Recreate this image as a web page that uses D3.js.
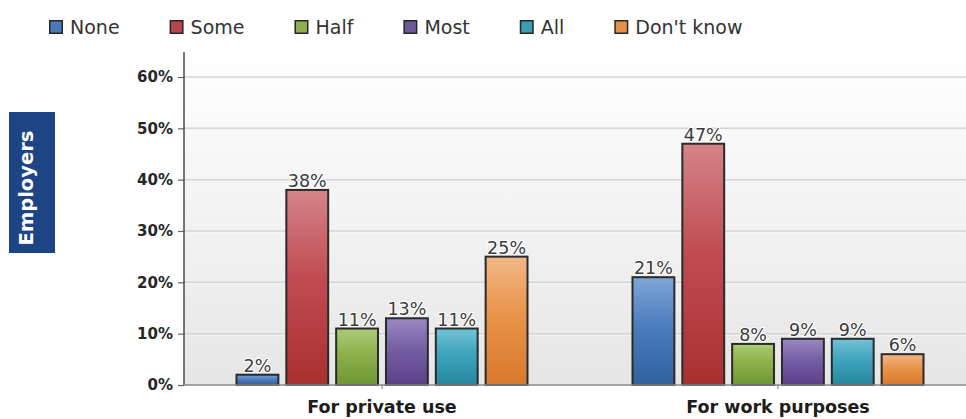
<!DOCTYPE html>
<html>
<head>
<meta charset="utf-8">
<script src="https://cdn.jsdelivr.net/npm/d3@7"></script>
<style>
  html, body { margin: 0; padding: 0; background: #ffffff; }
  svg { display: block; }
  text { font-family: "DejaVu Sans", sans-serif; }
</style>
</head>
<body>
<svg id="chart" width="966" height="419"></svg>
<script>
// Share of staff allowed Internet access, as reported by employers
const categories = ["For private use", "For work purposes"];
const seriesNames = ["None", "Some", "Half", "Most", "All", "Don't know"];
const privateUse = [2, 38, 11, 13, 11, 25];
const workPurposes = [21, 47, 8, 9, 9, 6];
const yTicks = [0, 10, 20, 30, 40, 50, 60];
const sideLabel = "Employers";

// Flat legend colours and the light/mid/dark stops of each bar gradient
const swatch = ["#4a78b8", "#b8444a", "#8fae4e", "#6e589a", "#3a9fb4", "#e6914a"];
const gradTop = ["#7ea6d8", "#d48489", "#accb78", "#9a88c2", "#74c2d4", "#f2b888"];
const gradMid = ["#4d7dbc", "#c04c52", "#8db04a", "#7660a4", "#3ea4bc", "#e8944a"];
const gradBottom = ["#30609e", "#a8302f", "#6d9734", "#5a3f88", "#26879e", "#d8792c"];

const values = [privateUse, workPurposes];

const svg = d3.select("#chart");
const plot = { left: 184, right: 976, top: 52, bottom: 385 };

const x0 = d3.scaleBand().domain(categories).range([plot.left, plot.right]).padding(0);
const y = d3.scaleLinear().domain([0, 60]).range([385, 77]);

const defs = svg.append("defs");
const bg = defs.append("linearGradient").attr("id", "plotBg")
  .attr("x1", 0).attr("y1", 0).attr("x2", 0).attr("y2", 1);
bg.append("stop").attr("offset", "0%").attr("stop-color", "#ffffff");
bg.append("stop").attr("offset", "100%").attr("stop-color", "#e6e6e6");

seriesNames.forEach((s, i) => {
  const g = defs.append("linearGradient").attr("id", "bar" + i)
    .attr("x1", 0).attr("y1", 0).attr("x2", 0).attr("y2", 1);
  g.append("stop").attr("offset", "0%").attr("stop-color", gradTop[i]);
  g.append("stop").attr("offset", "45%").attr("stop-color", gradMid[i]);
  g.append("stop").attr("offset", "100%").attr("stop-color", gradBottom[i]);
});

// Plot background
svg.append("rect")
  .attr("x", plot.left).attr("y", plot.top)
  .attr("width", plot.right - plot.left).attr("height", plot.bottom - plot.top)
  .attr("fill", "url(#plotBg)");

// Gridlines with a soft highlight underneath
const grid = svg.append("g");
grid.selectAll("line.hl").data(yTicks.filter(t => t > 0)).join("line")
  .attr("class", "hl")
  .attr("x1", plot.left).attr("x2", plot.right)
  .attr("y1", d => y(d) + 1.5).attr("y2", d => y(d) + 1.5)
  .attr("stroke", "#f6f6f6").attr("stroke-width", 1);
grid.selectAll("line.gl").data(yTicks.filter(t => t > 0)).join("line")
  .attr("class", "gl")
  .attr("x1", plot.left).attr("x2", plot.right)
  .attr("y1", d => y(d)).attr("y2", d => y(d))
  .attr("stroke", "#d4d4d4").attr("stroke-width", 1.5);

// Y axis
const yAxis = svg.append("g")
  .attr("transform", `translate(${plot.left},0)`)
  .call(d3.axisLeft(y).tickValues(yTicks).tickFormat(d => d + "%").tickSize(6).tickPadding(5));
yAxis.select(".domain").remove();
yAxis.selectAll(".tick line").attr("stroke", "#666").attr("stroke-width", 1.2);
yAxis.selectAll(".tick text")
  .attr("fill", "#262626").attr("font-size", 15).attr("font-weight", "bold")
  .attr("font-family", "DejaVu Sans, sans-serif");
svg.append("line")
  .attr("x1", plot.left).attr("x2", plot.left)
  .attr("y1", plot.top).attr("y2", plot.bottom)
  .attr("stroke", "#4a4a4a").attr("stroke-width", 1.5);

// Bars
const x1 = d3.scaleBand().domain(seriesNames).paddingInner(0.16).paddingOuter(0);
const groupSpan = 291;
x1.range([0, groupSpan]);

const groups = svg.append("g").selectAll("g").data(categories).join("g")
  .attr("transform", c => `translate(${x0(c) + x0.bandwidth() / 2 - groupSpan / 2},0)`);

groups.each(function (c, ci) {
  const g = d3.select(this);
  const rows = seriesNames.map((s, i) => ({ s, i, v: values[ci][i] }));
  g.selectAll("rect").data(rows).join("rect")
    .attr("x", d => x1(d.s))
    .attr("y", d => y(d.v))
    .attr("width", x1.bandwidth())
    .attr("height", d => y(0) - y(d.v))
    .attr("fill", d => `url(#bar${d.i})`)
    .attr("stroke", "#2a2a2a").attr("stroke-width", 2);
  g.selectAll("text").data(rows).join("text")
    .attr("x", d => x1(d.s) + x1.bandwidth() / 2)
    .attr("y", d => y(d.v) - 3)
    .attr("text-anchor", "middle")
    .attr("font-size", 17.5)
    .attr("fill", "#3a3a3a")
    .attr("stroke", "#ffffff").attr("stroke-width", 2).attr("paint-order", "stroke")
    .text(d => d.v + "%");
});

// X axis baseline, category ticks and labels
svg.append("line")
  .attr("x1", plot.left).attr("x2", plot.right)
  .attr("y1", plot.bottom).attr("y2", plot.bottom)
  .attr("stroke", "#8a8a8a").attr("stroke-width", 1.5);
const xAxis = svg.append("g")
  .attr("transform", `translate(0,${plot.bottom})`)
  .call(d3.axisBottom(x0).tickSize(4).tickPadding(12));
xAxis.select(".domain").remove();
xAxis.selectAll(".tick line").attr("stroke", "#777");
xAxis.selectAll(".tick text")
  .attr("fill", "#1c1c1c").attr("font-size", 17.5).attr("font-weight", "bold")
  .attr("font-family", "DejaVu Sans, sans-serif");

// Side label
svg.append("rect")
  .attr("x", 9).attr("y", 112).attr("width", 46).attr("height", 141)
  .attr("fill", "#1d4586");
svg.append("text")
  .attr("transform", "translate(33,188) rotate(-90)")
  .attr("text-anchor", "middle")
  .attr("font-size", 19.5).attr("font-weight", "bold")
  .attr("fill", "#ffffff")
  .text(sideLabel);

// Legend
const legend = svg.append("g");
let lx = 49;
seriesNames.forEach((s, i) => {
  const item = legend.append("g");
  item.append("rect")
    .attr("x", lx + 0.75).attr("y", 20.75).attr("width", 12.5).attr("height", 12.5)
    .attr("fill", swatch[i]).attr("stroke", "#262626").attr("stroke-width", 1.5);
  const t = item.append("text")
    .attr("x", lx + 21).attr("y", 34)
    .attr("font-size", 19).attr("fill", "#333333")
    .text(s);
  lx += 21 + t.node().getComputedTextLength() + 50;
});
</script>
</body>
</html>
